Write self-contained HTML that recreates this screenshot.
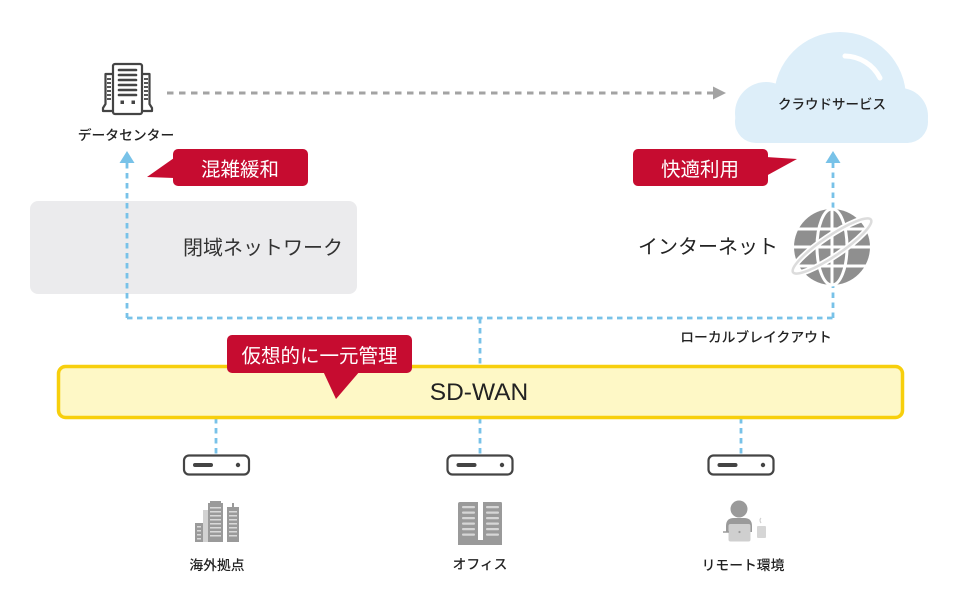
<!DOCTYPE html>
<html>
<head>
<meta charset="utf-8">
<style>
html,body{margin:0;padding:0;background:#fff;}
svg{display:block;}
text{font-family:"Liberation Sans","Noto Sans CJK JP",sans-serif;}
.jp{font-family:"Noto Sans CJK JP","Liberation Sans",sans-serif;}
</style>
</head>
<body>
<svg width="960" height="609" viewBox="0 0 960 609" xmlns="http://www.w3.org/2000/svg">
  <!-- Gray closed network box -->
  <rect x="30" y="201" width="327" height="93" rx="8" fill="#ebebed"/>
  <text class="jp" x="343" y="246" text-anchor="end" dominant-baseline="central" font-size="20" fill="#333">閉域ネットワーク</text>

  <!-- Cloud -->
  <defs>
    <clipPath id="cc"><rect x="0" y="0" width="960" height="143"/></clipPath>
  </defs>
  <g fill="#ddeef9" clip-path="url(#cc)">
    <circle cx="840" cy="98" r="66"/>
    <circle cx="766" cy="113" r="31"/>
    <circle cx="900" cy="116" r="28"/>
    <rect x="735" y="100" width="193" height="43" rx="21"/>
  </g>
  <path d="M845 56 A40 40 0 0 1 880 78" fill="none" stroke="#fff" stroke-width="5" stroke-linecap="round"/>
  <text class="jp" x="832" y="103" text-anchor="middle" dominant-baseline="central" font-size="13.5" fill="#222" font-weight="500">クラウドサービス</text>

  <!-- Gray dashed arrow -->
  <line x1="167" y1="93" x2="713" y2="93" stroke="#a3a3a3" stroke-width="3" stroke-dasharray="6.5 5.5"/>
  <polygon points="713,86.5 726,93 713,99.5" fill="#a3a3a3"/>

  <!-- Blue dashed connectors -->
  <g stroke="#78c2e8" stroke-width="2.8" fill="none" stroke-dasharray="5.5 4.5">
    <line x1="127" y1="163" x2="127" y2="318"/>
    <line x1="127" y1="318" x2="833" y2="318"/>
    <line x1="833" y1="318" x2="833" y2="162"/>
    <line x1="480" y1="318" x2="480" y2="366"/>
    <line x1="216" y1="418" x2="216" y2="455"/>
    <line x1="480" y1="418" x2="480" y2="455"/>
    <line x1="741" y1="418" x2="741" y2="455"/>
  </g>
  <polygon points="127,151 134.5,163 119.5,163" fill="#78c2e8"/>
  <polygon points="833,151 840.5,163 825.5,163" fill="#78c2e8"/>

  <!-- Datacenter icon -->
  <g stroke="#444" stroke-width="2.2" fill="#fff" stroke-linejoin="round">
    <path d="M113 74 H105.5 V104 L103 108 V111 H113"/>
    <path d="M142 74 H149.5 V104 L152 108 V111 H142"/>
    <rect x="113" y="64" width="29" height="50" rx="2"/>
  </g>
  <g stroke="#444" stroke-width="2.6" stroke-linecap="round">
    <line x1="119" y1="70" x2="136" y2="70"/>
    <line x1="119" y1="75" x2="136" y2="75"/>
    <line x1="119" y1="80" x2="136" y2="80"/>
    <line x1="119" y1="85" x2="136" y2="85"/>
    <line x1="119" y1="90" x2="136" y2="90"/>
    <line x1="119" y1="95" x2="136" y2="95"/>
  </g>
  <g stroke="#444" stroke-width="1.8">
    <line x1="107" y1="79" x2="111" y2="79"/><line x1="107" y1="83" x2="111" y2="83"/>
    <line x1="107" y1="87" x2="111" y2="87"/><line x1="107" y1="91" x2="111" y2="91"/>
    <line x1="107" y1="95" x2="111" y2="95"/><line x1="107" y1="99" x2="111" y2="99"/>
    <line x1="144" y1="79" x2="148" y2="79"/><line x1="144" y1="83" x2="148" y2="83"/>
    <line x1="144" y1="87" x2="148" y2="87"/><line x1="144" y1="91" x2="148" y2="91"/>
    <line x1="144" y1="95" x2="148" y2="95"/><line x1="144" y1="99" x2="148" y2="99"/>
  </g>
  <rect x="120.5" y="100.5" width="3.5" height="3.5" fill="#444"/>
  <rect x="131.5" y="100.5" width="3.5" height="3.5" fill="#444"/>
  <text class="jp" x="126" y="134" text-anchor="middle" dominant-baseline="central" font-size="13.8" fill="#222" font-weight="500">データセンター</text>

  <!-- Callout 混雑緩和 -->
  <polygon points="174,158 147,177 174,178" fill="#c60c30"/>
  <rect x="173" y="149" width="135" height="37" rx="5" fill="#c60c30"/>
  <text class="jp" x="240" y="167.5" text-anchor="middle" dominant-baseline="central" font-size="19.5" fill="#fff">混雑緩和</text>

  <!-- Callout 快適利用 -->
  <polygon points="766,157 797,159 766,176" fill="#c60c30"/>
  <rect x="633" y="149" width="135" height="37" rx="5" fill="#c60c30"/>
  <text class="jp" x="700" y="167.5" text-anchor="middle" dominant-baseline="central" font-size="19.5" fill="#fff">快適利用</text>

  <!-- Internet -->
  <text class="jp" x="708" y="245" text-anchor="middle" dominant-baseline="central" font-size="20" fill="#222">インターネット</text>
  <g>
    <circle cx="832" cy="247" r="38" fill="#8f8f8f"/>
    <g stroke="#fff" stroke-width="3" fill="none">
      <ellipse cx="832" cy="247" rx="15" ry="38"/>
      <line x1="832" y1="209" x2="832" y2="285"/>
      <line x1="794" y1="247" x2="870" y2="247"/>
      <line x1="797" y1="229" x2="867" y2="229"/>
      <line x1="797" y1="266" x2="867" y2="266"/>
    </g>
    <ellipse cx="832" cy="246" rx="47" ry="10" transform="rotate(-34 832 246)" fill="none" stroke="#fff" stroke-width="6"/>
    <ellipse cx="832" cy="246" rx="47" ry="10" transform="rotate(-34 832 246)" fill="none" stroke="#dcdcdc" stroke-width="2.5"/>
  </g>
  <text class="jp" x="756" y="336" text-anchor="middle" dominant-baseline="central" font-size="13.8" fill="#222" font-weight="500">ローカルブレイクアウト</text>

  <!-- SD-WAN bar -->
  <rect x="58.5" y="366.5" width="844" height="51" rx="7" fill="#fef8c6" stroke="#f7cf0c" stroke-width="3.5"/>
  <text x="479" y="400" text-anchor="middle" font-size="24.5" fill="#222">SD-WAN</text>

  <!-- Callout 仮想的に一元管理 -->
  <polygon points="323,371 336,399 360,371" fill="#c60c30"/>
  <rect x="227" y="335" width="185" height="38" rx="5" fill="#c60c30"/>
  <text class="jp" x="319.5" y="354" text-anchor="middle" dominant-baseline="central" font-size="19.5" fill="#fff">仮想的に一元管理</text>

  <!-- Routers -->
  <g fill="#fff" stroke="#444" stroke-width="2.2">
    <rect x="184" y="455.5" width="65" height="19" rx="5"/>
    <rect x="447.5" y="455.5" width="65" height="19" rx="5"/>
    <rect x="708.5" y="455.5" width="65" height="19" rx="5"/>
  </g>
  <g stroke="#444" stroke-width="4" stroke-linecap="round">
    <line x1="195" y1="465" x2="211" y2="465"/>
    <line x1="458.5" y1="465" x2="474.5" y2="465"/>
    <line x1="719.5" y1="465" x2="735.5" y2="465"/>
  </g>
  <g fill="#444">
    <circle cx="238" cy="465" r="2.2"/>
    <circle cx="502" cy="465" r="2.2"/>
    <circle cx="763" cy="465" r="2.2"/>
  </g>

  <!-- Overseas buildings icon -->
  <g>
    <rect x="203" y="510" width="6" height="32" fill="#d2d2d2"/>
    <rect x="195" y="523" width="8" height="19" fill="#9a9a9a"/>
    <rect x="208" y="503" width="15" height="39" fill="#9a9a9a"/>
    <rect x="210" y="501" width="11" height="3" fill="#9a9a9a"/>
    <rect x="227" y="507" width="12" height="35" fill="#9a9a9a"/>
    <rect x="232" y="503" width="2" height="5" fill="#9a9a9a"/>
    <g fill="#d9d9d9">
      <rect x="197" y="526" width="4" height="1.5"/><rect x="197" y="530" width="4" height="1.5"/>
      <rect x="197" y="534" width="4" height="1.5"/><rect x="197" y="538" width="4" height="1.5"/>
      <rect x="210" y="507" width="11" height="1.5"/><rect x="210" y="511" width="11" height="1.5"/>
      <rect x="210" y="515" width="11" height="1.5"/><rect x="210" y="519" width="11" height="1.5"/>
      <rect x="210" y="523" width="11" height="1.5"/><rect x="210" y="527" width="11" height="1.5"/>
      <rect x="210" y="531" width="11" height="1.5"/><rect x="210" y="535" width="11" height="1.5"/>
      <rect x="229" y="511" width="8" height="1.5"/><rect x="229" y="515" width="8" height="1.5"/>
      <rect x="229" y="519" width="8" height="1.5"/><rect x="229" y="523" width="8" height="1.5"/>
      <rect x="229" y="527" width="8" height="1.5"/><rect x="229" y="531" width="8" height="1.5"/>
      <rect x="229" y="535" width="8" height="1.5"/>
    </g>
  </g>
  <text class="jp" x="217" y="564" text-anchor="middle" dominant-baseline="central" font-size="13.8" fill="#222" font-weight="500">海外拠点</text>

  <!-- Office icon -->
  <g>
    <path d="M460 502 H478 V540 H483 V502 H501 Q502 502 502 504 V545 H458 V504 Q458 502 460 502 Z" fill="#9a9a9a"/>
    <g fill="#d6d6d6">
      <rect x="462" y="506" width="13" height="2.2" rx="1"/><rect x="486" y="506" width="13" height="2.2" rx="1"/>
      <rect x="462" y="511.5" width="13" height="2.2" rx="1"/><rect x="486" y="511.5" width="13" height="2.2" rx="1"/>
      <rect x="462" y="517" width="13" height="2.2" rx="1"/><rect x="486" y="517" width="13" height="2.2" rx="1"/>
      <rect x="462" y="522.5" width="13" height="2.2" rx="1"/><rect x="486" y="522.5" width="13" height="2.2" rx="1"/>
      <rect x="462" y="528" width="13" height="2.2" rx="1"/><rect x="486" y="528" width="13" height="2.2" rx="1"/>
      <rect x="462" y="533.5" width="13" height="2.2" rx="1"/><rect x="486" y="533.5" width="13" height="2.2" rx="1"/>
    </g>
  </g>
  <text class="jp" x="480" y="563" text-anchor="middle" dominant-baseline="central" font-size="13.8" fill="#222" font-weight="500">オフィス</text>

  <!-- Remote icon -->
  <g>
    <circle cx="739" cy="509" r="8.5" fill="#9a9a9a"/>
    <path d="M726 532 V526 Q726 518 734 518 H744 Q752 518 752 526 V532 Z" fill="#9a9a9a"/>
    <rect x="728.5" y="524" width="22" height="17.5" rx="2" fill="#cfcfcf"/>
    <circle cx="739.5" cy="532" r="1.1" fill="#9a9a9a"/>
    <line x1="723" y1="532" x2="729" y2="532" stroke="#9a9a9a" stroke-width="1.5"/>
    <rect x="757" y="526" width="9" height="12" rx="1" fill="#d6d6d6"/>
    <path d="M761 523 Q759 520 761 518" stroke="#d0d0d0" stroke-width="1.2" fill="none"/>
  </g>
  <text class="jp" x="743" y="564" text-anchor="middle" dominant-baseline="central" font-size="13.8" fill="#222" font-weight="500">リモート環境</text>
</svg>
</body>
</html>
